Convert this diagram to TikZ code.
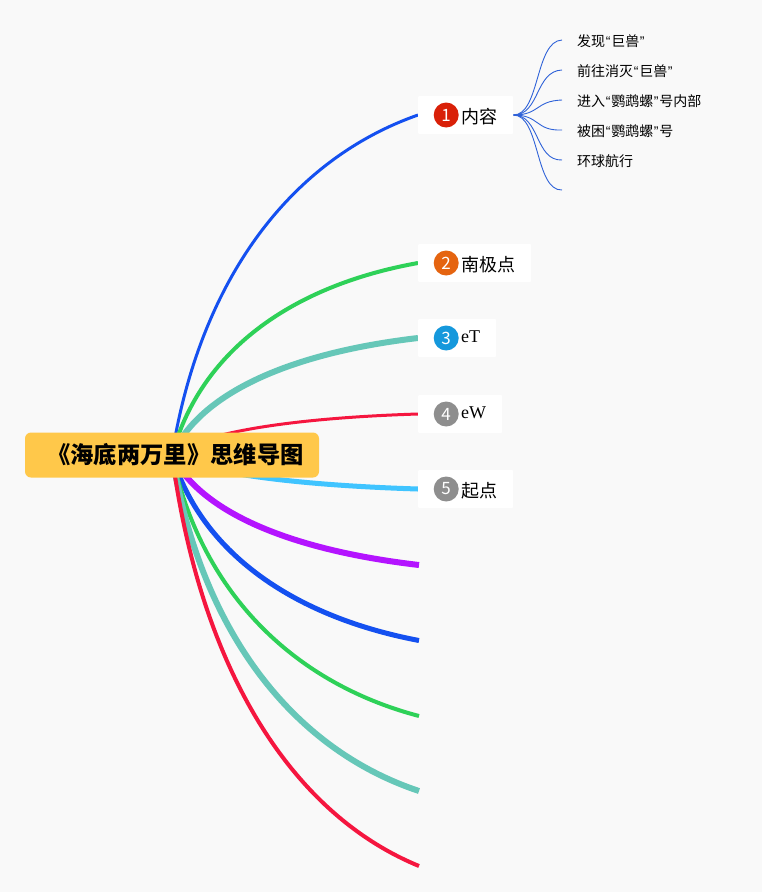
\documentclass[tikz,border=0pt]{standalone}
\usepackage{fontspec}
\setmainfont{Noto Sans CJK SC}
\newfontfamily\serifpart{Liberation Serif}
\newfontfamily\quotepart{Liberation Sans}
\newcommand{\kq}[1]{\kern0.7pt{\quotepart “}\kern0.7pt#1\kern0.7pt{\quotepart ”}\kern0.7pt}
\usetikzlibrary{positioning}
\definecolor{paper}{HTML}{F9F9F9}
\definecolor{rootfill}{HTML}{FFC84A}
\definecolor{linkblue}{HTML}{1450F0}
\definecolor{linkgreen}{HTML}{2ED158}
\definecolor{linkteal}{HTML}{66C7B8}
\definecolor{linkred}{HTML}{F5163F}
\definecolor{linkcyan}{HTML}{40C4FF}
\definecolor{linkpurple}{HTML}{B414FF}
\definecolor{badgered}{HTML}{D92008}
\definecolor{badgeorange}{HTML}{E56410}
\definecolor{badgeblue}{HTML}{1598DC}
\definecolor{badgegray}{HTML}{8E8E8E}
\definecolor{childblue}{HTML}{2F62D8}
\pgfdeclarelayer{sheet}
\pgfdeclarelayer{links}
\pgfsetlayers{sheet,links,main}
\tikzset{
    root/.style={
        rectangle,
        rounded corners=6pt,
        fill=rootfill,
        minimum width=294pt,
        minimum height=45pt,
        font=\bfseries\fontsize{23.3}{28}\selectfont
    },
    topicbox/.style={
        rectangle,
        rounded corners=1pt,
        fill=white,
        anchor=west,
        minimum height=38pt
    },
    badge/.style={
        circle,
        minimum size=25pt,
        inner sep=0pt,
        text=white,
        font=\fontsize{17}{20}\selectfont
    },
    topic/.style={
        inner sep=0pt,
        font=\fontsize{18}{22}\selectfont
    },
    child/.style={
        inner sep=0pt,
        anchor=west,
        font=\fontsize{14}{17}\selectfont
    },
    sublink/.style={
        childblue,
        line width=0.9pt
    }
}

\begin{document}
\begin{tikzpicture}[x=1pt,y=-1pt]
\useasboundingbox (0,0) rectangle (762,892);
\begin{pgfonlayer}{sheet}
\fill[paper] (0,0) rectangle (762,892);
\end{pgfonlayer}

\node (title) [root] at (172,455) {\hspace*{7pt}《海底两万里》思维导图};

\node (neirongbox) [topicbox, minimum width=95pt] at (418,115) {};
\node (nanjibox) [topicbox, minimum width=113pt] at (418,263) {};
\node (etbox) [topicbox, minimum width=78pt] at (418,338) {};
\node (ewbox) [topicbox, minimum width=84pt] at (418,414) {};
\node (qidianbox) [topicbox, minimum width=95pt] at (418,489) {};

\node (one) [badge, fill=badgered, right=15.5pt of neirongbox.west] {1};
\node (two) [badge, fill=badgeorange, right=15.5pt of nanjibox.west] {2};
\node (three) [badge, fill=badgeblue, right=15.5pt of etbox.west] {3};
\node (four) [badge, fill=badgegray, right=15.5pt of ewbox.west] {4};
\node (five) [badge, fill=badgegray, right=15.5pt of qidianbox.west] {5};

\node (neirong) [topic, right=2.5pt of one, yshift=-1.5pt] {内容};
\node (nanji) [topic, right=2.5pt of two, yshift=-1.5pt] {南极点};
\node (et) [topic, right=2pt of three, yshift=1.5pt] {\serifpart eT};
\node (ew) [topic, right=2pt of four, yshift=1.5pt] {\serifpart eW};
\node (qidian) [topic, right=2pt of five, yshift=-1.5pt] {起点};

\coordinate (end6) at (419,565);
\coordinate (end7) at (419,640.5);
\coordinate (end8) at (419,716);
\coordinate (end9) at (419,791);
\coordinate (end10) at (419,866);

\node (faxian) [child] at (577,41.5) {发现\kq{巨兽}};
\node (qianwang) [child] at (577,71.5) {前往消灭\kq{巨兽}};
\node (jinru) [child] at (577,101.5) {进入\kq{鹦鹉螺}号内部};
\node (beikun) [child] at (577,131.5) {被困\kq{鹦鹉螺}号};
\node (huanqiu) [child] at (577,161.5) {环球航行};
\coordinate (blank) at (562,190);

\begin{pgfonlayer}{links}
\draw [linkblue, line width=3pt] (title.center) .. controls (200,280) and (290,160) .. (neirongbox.west);
\draw [linkgreen, line width=4pt] (title.center) .. controls (200,352) and (290,286) .. (nanjibox.west);
\draw [linkteal, line width=6pt] (title.center) .. controls (200,393) and (290,353) .. (etbox.west);
\draw [linkred, line width=3pt] (title.center) .. controls (200,433) and (290,418) .. (ewbox.west);
\draw [linkcyan, line width=5pt] (title.center) .. controls (200,472) and (290,485) .. (qidianbox.west);
\draw [linkpurple, line width=6pt] (title.center) .. controls (200,512) and (290,550) .. (end6);
\draw [linkblue, line width=5pt] (title.center) .. controls (200,550) and (290,616) .. (end7);
\draw [linkgreen, line width=4pt] (title.center) .. controls (200,589) and (290,682) .. (end8);
\draw [linkteal, line width=6pt] (title.center) .. controls (200,628) and (290,748) .. (end9);
\draw [linkred, line width=4pt] (title.center) .. controls (200,667) and (290,813) .. (end10);

\draw [sublink] (neirongbox.east) .. controls (540,115) and (535,41) .. (562,40);
\draw [sublink] (neirongbox.east) .. controls (540,115) and (535,71) .. (562,70);
\draw [sublink] (neirongbox.east) .. controls (540,115) and (535,101) .. (562,100);
\draw [sublink] (neirongbox.east) .. controls (540,115) and (535,131) .. (562,130);
\draw [sublink] (neirongbox.east) .. controls (540,115) and (535,161) .. (562,160);
\draw [sublink] (neirongbox.east) .. controls (540,115) and (535,191) .. (blank);
\end{pgfonlayer}
\end{tikzpicture}
\end{document}
